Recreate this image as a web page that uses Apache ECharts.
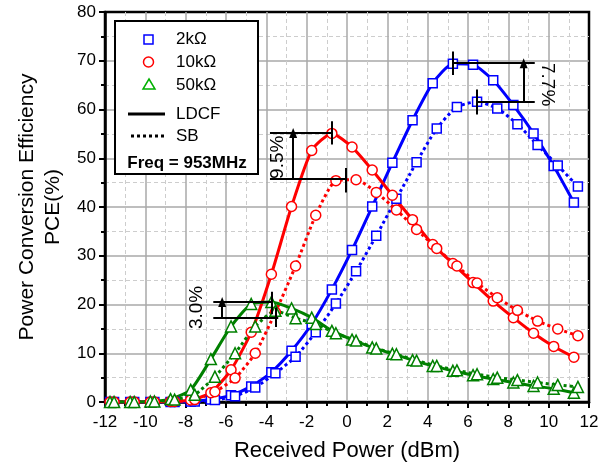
<!DOCTYPE html>
<html>
<head>
<meta charset="utf-8">
<script src="https://cdn.jsdelivr.net/npm/echarts@6/dist/echarts.min.js"></script>
<style>
  html, body { margin: 0; padding: 0; background: #fff; }
  #main { width: 611px; height: 467px; }
</style>
</head>
<body>
<div id="main"></div>
<script>
// received power (dBm) for each curve type
var xLdcf = [-11.75, -10.75, -9.75, -8.75, -7.75, -6.75, -5.75, -4.75, -3.75, -2.75, -1.75, -0.75,
             0.25, 1.25, 2.25, 3.25, 4.25, 5.25, 6.25, 7.25, 8.25, 9.25, 10.25, 11.25];
var xSb = [-11.55, -10.55, -9.55, -8.55, -7.55, -6.55, -5.55, -4.55, -3.55, -2.55, -1.55, -0.55,
           0.45, 1.45, 2.45, 3.45, 4.45, 5.45, 6.45, 7.45, 8.45, 9.45, 10.45, 11.45];

// PCE (%)
var ldcf2k = [0, 0, 0, 0, 0.1, 0.5, 1.4, 3.2, 6.1, 10.5, 16.0, 23.1, 31.2, 40.1, 49.1, 57.8, 65.4, 69.4, 69.2, 66.0, 60.9, 55.1, 48.4, 40.9];
var sb2k = [0, 0, 0, 0, 0.1, 0.4, 1.2, 3.0, 5.9, 9.3, 14.3, 20.2, 26.8, 34.1, 41.7, 49.2, 56.1, 60.5, 61.6, 60.2, 57.0, 52.7, 48.5, 44.2];
var ldcf10k = [0, 0, 0, 0.1, 0.4, 1.9, 6.6, 14.3, 26.2, 40.1, 51.6, 55.1, 52.3, 47.6, 42.4, 37.4, 32.3, 28.4, 24.5, 20.7, 17.3, 14.1, 11.4, 9.2];
var sb10k = [0, 0, 0, 0.1, 0.5, 2.1, 4.9, 10.0, 18.4, 27.9, 38.3, 45.4, 45.6, 43.0, 39.4, 35.4, 31.5, 27.9, 24.4, 21.4, 18.8, 16.6, 15.0, 13.6];
var ldcf50k = [0, 0, 0.1, 0.6, 2.5, 8.8, 15.5, 20.1, 20.5, 19.2, 17.3, 14.6, 12.8, 11.2, 9.9, 8.6, 7.4, 6.4, 5.5, 4.7, 4.0, 3.3, 2.7, 1.9];
var sb50k = [0, 0, 0.1, 0.5, 1.5, 5.2, 10.0, 15.5, 18.7, 17.2, 16.0, 14.1, 12.6, 11.0, 9.8, 8.5, 7.4, 6.5, 5.7, 5.0, 4.5, 4.0, 3.5, 3.1];

// peak difference annotations
var peakLines = [
    [[5.25, 69.5], [9.31, 69.5]], [[6.42, 61.6], [9.31, 61.6]],
    [[-3.82, 55.2], [-0.77, 55.2]], [[-3.82, 45.8], [0.01, 45.8]],
    [[-6.63, 20.5], [-3.74, 20.5]], [[-6.63, 17.3], [-3.41, 17.3]]
];
var peakTicks = [[5.25, 67.1, 71.9], [6.42, 59.0, 64.1], [-0.77, 52.8, 57.6],
                 [-0.04, 43.0, 48.0], [-3.74, 18.0, 22.6], [-3.53, 15.4, 19.4]];
var gainArrows = [[8.76, 61.6, 69.5], [-2.67, 45.8, 55.2], [-6.19, 17.3, 20.5]];
var gainText = ['7.7%', '9.5%', '3.0%'];
var gainPos = [[9.95, 65.1], [-3.43, 50.2], [-7.46, 19.4]];
var gainTurn = [-1, 1, 1];

var font = 'Liberation Sans, Arial, sans-serif';

function pairs(xs, ys) {
    return xs.map(function (x, i) { return [x, ys[i]]; });
}

function curve(name, xs, ys, color, symbol, size, dotted) {
    return {
        name: name,
        type: 'line',
        data: pairs(xs, ys),
        symbol: symbol,
        symbolSize: size,
        showAllSymbol: true,
        smooth: 0.2,
        lineStyle: {
            color: color,
            width: 3,
            type: dotted ? [3, 3] : 'solid'
        },
        itemStyle: {
            color: '#fff',
            borderColor: color,
            borderWidth: 1.5
        },
        z: 3
    };
}

var lineSegs = peakLines.map(function (s) {
    return [{ coord: s[0] }, { coord: s[1] }];
});
peakTicks.forEach(function (t) {
    lineSegs.push([{ coord: [t[0], t[1]] }, { coord: [t[0], t[2]] }]);
});
var arrowSegs = gainArrows.map(function (a) {
    return [{ coord: [a[0], a[1]] }, { coord: [a[0], a[2]] }];
});

var chart = echarts.init(document.getElementById('main'));
var option = {
    animation: false,
    backgroundColor: '#fff',
    grid: {
        left: 105,
        right: 22,
        top: 12,
        bottom: 64,
        show: true,
        borderColor: '#000',
        borderWidth: 2.5
    },
    xAxis: {
        type: 'value',
        min: -12,
        max: 12,
        interval: 2,
        name: 'Received Power (dBm)',
        nameLocation: 'middle',
        nameGap: 38,
        nameTextStyle: { fontSize: 22, color: '#000', fontFamily: font },
        axisLine: { onZero: false, lineStyle: { color: '#000', width: 2.5 } },
        axisTick: { length: 6, lineStyle: { color: '#000', width: 2 } },
        minorTick: { show: true, splitNumber: 2, length: 4, lineStyle: { color: '#000', width: 2 } },
        splitLine: { showMinLine: false, showMaxLine: false, lineStyle: { color: '#a8a8a8', width: 1.5 } },
        minorSplitLine: { show: true, lineStyle: { color: '#cdcdcd', width: 1, type: [4, 3] } },
        axisLabel: { fontSize: 17, color: '#000', margin: 12, fontFamily: font }
    },
    yAxis: {
        type: 'value',
        min: 0,
        max: 80,
        interval: 10,
        name: 'Power Conversion Efficiency\nPCE(%)',
        nameLocation: 'middle',
        nameGap: 36,
        nameTextStyle: { fontSize: 21, color: '#000', fontFamily: font, lineHeight: 26 },
        axisLine: { onZero: false, lineStyle: { color: '#000', width: 2.5 } },
        axisTick: { length: 6, lineStyle: { color: '#000', width: 2 } },
        minorTick: { show: true, splitNumber: 2, length: 4, lineStyle: { color: '#000', width: 2 } },
        splitLine: { showMinLine: false, showMaxLine: false, lineStyle: { color: '#a8a8a8', width: 1.5 } },
        minorSplitLine: { show: true, lineStyle: { color: '#cdcdcd', width: 1, type: [4, 3] } },
        axisLabel: { fontSize: 17, color: '#000', margin: 9, fontFamily: font }
    },
    series: [
        curve('2kΩ LDCF', xLdcf, ldcf2k, '#0000ff', 'rect', 9, false),
        curve('2kΩ SB', xSb, sb2k, '#0000ff', 'rect', 9, true),
        curve('10kΩ LDCF', xLdcf, ldcf10k, '#ff0000', 'circle', 10, false),
        curve('10kΩ SB', xSb, sb10k, '#ff0000', 'circle', 10, true),
        curve('50kΩ LDCF', xLdcf, ldcf50k, '#008000', 'triangle', 11, false),
        curve('50kΩ SB', xSb, sb50k, '#008000', 'triangle', 11, true),
        {
            type: 'line',
            data: [],
            markLine: {
                silent: true,
                symbol: 'none',
                animation: false,
                label: { show: false },
                lineStyle: { color: '#000', width: 2, type: 'solid' },
                data: lineSegs
            },
            z: 5
        },
        {
            type: 'line',
            data: [],
            markLine: {
                silent: true,
                symbol: ['none', 'triangle'],
                symbolSize: [8, 10],
                animation: false,
                label: { show: false },
                lineStyle: { color: '#000', width: 2, type: 'solid' },
                itemStyle: { color: '#000' },
                data: arrowSegs
            },
            z: 5
        }
    ]
};
chart.setOption(option);

// rotated percentage labels and the legend box
var graphics = gainText.map(function (t, i) {
    var p = chart.convertToPixel({ gridIndex: 0 }, gainPos[i]);
    return {
        type: 'text',
        x: p[0],
        y: p[1],
        rotation: gainTurn[i] * Math.PI / 2,
        style: {
            text: t,
            fill: '#000',
            font: '19px ' + font,
            align: 'center',
            verticalAlign: 'middle'
        },
        z: 10
    };
});

var legendItems = [
    { label: '2kΩ', y: 39 },
    { label: '10kΩ', y: 62 },
    { label: '50kΩ', y: 85 },
    { label: 'LDCF', y: 114 },
    { label: 'SB', y: 136 }
];
graphics.push({
    type: 'rect',
    shape: { x: 115, y: 21, width: 143, height: 153 },
    style: { fill: '#fff', stroke: '#000', lineWidth: 2 },
    z: 10
});
graphics.push({
    type: 'rect',
    shape: { x: 144, y: 35, width: 9, height: 9 },
    style: { fill: '#fff', stroke: '#0000ff', lineWidth: 1.5 },
    z: 11
});
graphics.push({
    type: 'circle',
    shape: { cx: 148.5, cy: 62, r: 5 },
    style: { fill: '#fff', stroke: '#ff0000', lineWidth: 1.5 },
    z: 11
});
graphics.push({
    type: 'polygon',
    shape: { points: [[149, 79], [155, 89], [143, 89]] },
    style: { fill: '#fff', stroke: '#00b000', lineWidth: 1.5 },
    z: 11
});
graphics.push({
    type: 'line',
    shape: { x1: 128, y1: 114, x2: 165, y2: 114 },
    style: { stroke: '#000', lineWidth: 3 },
    z: 11
});
graphics.push({
    type: 'line',
    shape: { x1: 131, y1: 136, x2: 164, y2: 136 },
    style: { stroke: '#000', lineWidth: 3, lineDash: [3, 3] },
    z: 11
});
legendItems.forEach(function (it) {
    graphics.push({
        type: 'text',
        x: 176,
        y: it.y,
        style: { text: it.label, fill: '#000', font: '17px ' + font, verticalAlign: 'middle' },
        z: 11
    });
});
graphics.push({
    type: 'text',
    x: 187,
    y: 163,
    style: {
        text: 'Freq = 953MHz',
        fill: '#000',
        font: 'bold 17px ' + font,
        align: 'center',
        verticalAlign: 'middle'
    },
    z: 11
});
chart.setOption({ graphic: graphics });

window.addEventListener('resize', function () {
    chart.resize();
});
</script>
</body>
</html>
